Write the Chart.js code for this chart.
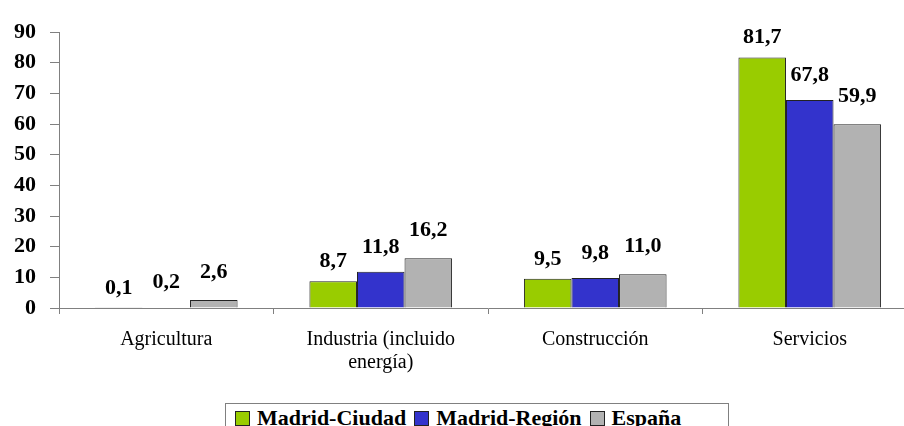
<!DOCTYPE html>
<html>
<head>
<meta charset="utf-8">
<script src="https://cdn.jsdelivr.net/npm/chart.js@4/dist/chart.umd.min.js"></script>
<style>
  html, body { margin: 0; padding: 0; background: #fff; overflow: hidden; width: 904px; height: 426px; }
  #wrap { position: absolute; left: 0; top: 0; width: 920px; height: 394px; }
  #legend {
    position: absolute; left: 225px; top: 403px; width: 504px; height: 30px;
    border: 1px solid #808080; box-sizing: border-box;
    font: bold 22px "Liberation Serif", "Times New Roman", serif; color: #000;
    display: flex; align-items: center; padding-left: 9px; white-space: nowrap;
  }
  #legend .item { display: flex; align-items: center; margin-right: 8px; }
  #legend .box { width: 13px; height: 13px; border: 1px solid #222; margin-right: 7px; }
</style>
</head>
<body>
<div id="wrap"><canvas id="sectorChart"></canvas></div>
<div id="legend"></div>
<script>
// categories and series
var categories = ['Agricultura', ['Industria (incluido', 'energía)'], 'Construcción', 'Servicios'];
var seriesNames = ['Madrid-Ciudad', 'Madrid-Región', 'España'];
var madridCiudad = [0.1, 8.7, 9.5, 81.7];
var madridRegion = [0.2, 11.8, 9.8, 67.8];
var espana = [2.6, 16.2, 11.0, 59.9];
var yTicks = [0, 10, 20, 30, 40, 50, 60, 70, 80, 90];

var colors = ['#99CC00', '#3333CC', '#B2B2B2'];
var serifFont = "'Liberation Serif', 'Times New Roman', serif";

Chart.defaults.font.family = serifFont;
Chart.defaults.color = '#000';

// draws the value above each bar, with a comma as decimal mark
var valueLabels = {
    id: 'valueLabels',
    afterDatasetsDraw: function (chart) {
        var ctx = chart.ctx;
        ctx.save();
        ctx.font = 'bold 22px ' + serifFont;
        ctx.fillStyle = '#000';
        ctx.textAlign = 'center';
        ctx.textBaseline = 'alphabetic';
        chart.data.datasets.forEach(function (ds, i) {
            var meta = chart.getDatasetMeta(i);
            meta.data.forEach(function (bar, j) {
                var txt = ds.data[j].toFixed(1).replace('.', ',');
                ctx.fillText(txt, bar.x, bar.y - ds.labelOffset);
            });
        });
        ctx.restore();
    }
};

var ctx = document.getElementById('sectorChart').getContext('2d');
var sectorChart = new Chart(ctx, {
    type: 'bar',
    data: {
        labels: categories,
        datasets: [
            { label: seriesNames[0], data: madridCiudad, backgroundColor: colors[0], labelOffset: 14 },
            { label: seriesNames[1], data: madridRegion, backgroundColor: colors[1], labelOffset: 19 },
            { label: seriesNames[2], data: espana, backgroundColor: colors[2], labelOffset: 22 }
        ]
    },
    options: {
        responsive: true,
        maintainAspectRatio: false,
        animation: false,
        events: [],
        layout: { padding: { left: 0, top: 32, right: 3, bottom: 6 } },
        datasets: {
            bar: {
                borderColor: '#222',
                borderWidth: 1,
                barPercentage: 1,
                categoryPercentage: 0.665
            }
        },
        plugins: {
            legend: { display: false },
            tooltip: { enabled: false }
        },
        scales: {
            x: {
                grid: {
                    display: true,
                    drawOnChartArea: false,
                    offset: true,
                    tickLength: 6,
                    tickColor: '#808080'
                },
                border: { color: '#808080', width: 1 },
                ticks: {
                    color: '#000',
                    padding: 14,
                    maxRotation: 0,
                    autoSkip: false,
                    font: { size: 20, lineHeight: 1.15 }
                }
            },
            y: {
                min: 0,
                max: 90,
                afterBuildTicks: function (scale) {
                    scale.ticks = yTicks.map(function (v) { return { value: v }; });
                },
                grid: {
                    display: true,
                    drawOnChartArea: false,
                    tickLength: 9,
                    tickColor: '#808080'
                },
                border: { color: '#808080', width: 1 },
                ticks: {
                    color: '#000',
                    padding: 14,
                    autoSkip: false,
                    font: { size: 22, weight: 'bold' }
                }
            }
        }
    },
    plugins: [valueLabels]
});

// legend built from the series names and colours
var legendEl = document.getElementById('legend');
seriesNames.forEach(function (name, i) {
    var item = document.createElement('div');
    item.className = 'item';
    var box = document.createElement('span');
    box.className = 'box';
    box.style.background = colors[i];
    var txt = document.createElement('span');
    txt.textContent = name;
    item.appendChild(box);
    item.appendChild(txt);
    legendEl.appendChild(item);
});
</script>
</body>
</html>
